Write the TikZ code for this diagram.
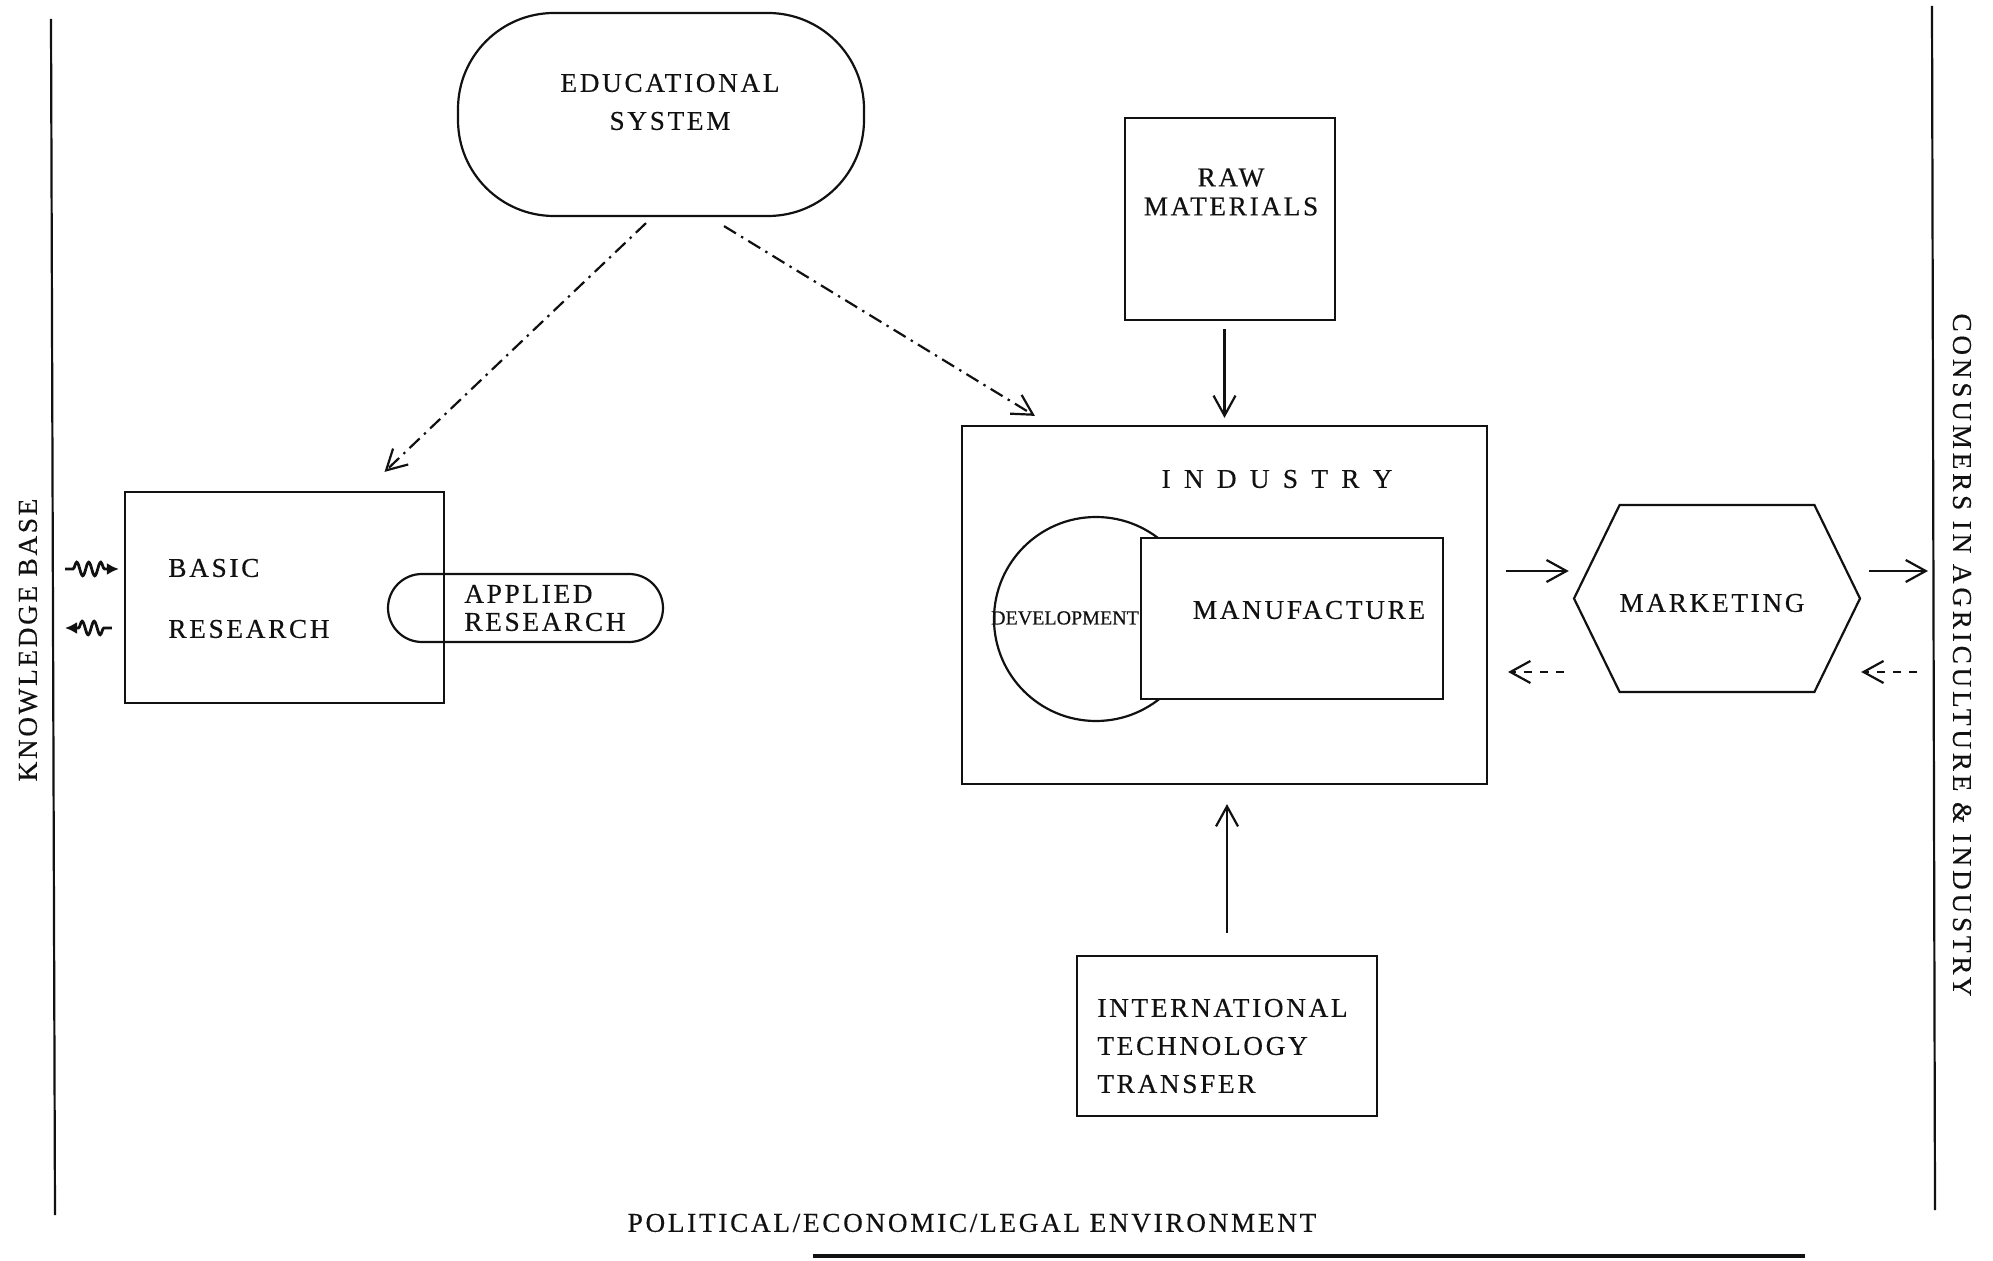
\documentclass[tikz,border=0pt]{standalone}
\usepackage{fontspec}
\setmainfont{Liberation Serif}[LetterSpace=10,FakeBold=0.4]
\newfontfamily\devfont{Liberation Serif}[FakeBold=0.4]
\newfontfamily\widefont{Liberation Serif}[LetterSpace=24,FakeBold=0.4]
\newfontfamily\consfont{Liberation Serif}[LetterSpace=14,FakeBold=0.4]
\usepackage{tikz}
\usetikzlibrary{calc,arrows.meta,shapes.symbols,decorations.pathmorphing}
\definecolor{ink}{HTML}{111111}
\tikzset{
  base/.style={draw=ink, line width=1.1pt},
  box/.style={base, rectangle, inner sep=0pt},
  pill/.style={base, rectangle, rounded corners=#1, inner sep=0pt},
  lab/.style={text=ink, font=\fontsize{13.6}{19}\selectfont, inner sep=0pt},
  arr/.style={draw=ink, line width=1.1pt, -{Straight Barb[length=10pt,width=11pt]}},
  dasharr/.style={arr, dash pattern=on 4pt off 4pt},
  dotarr/.style={arr, dash pattern=on 7pt off 3pt on 1.2pt off 3pt},
  wig/.style={draw=ink, line width=1.4pt, -{Latex[length=6pt,width=6pt]},
    decorate, decoration={snake, amplitude=3.4pt, segment length=6pt, pre length=4pt, post length=6pt}},
}

\begin{document}
\begin{tikzpicture}[x=0.5pt,y=-0.5pt]
  \useasboundingbox (0,0) rectangle (1993,1261);
  % frame lines
  \coordinate (ltop) at (51,19);   \coordinate (lbot) at (55,1215);
  \coordinate (rtop) at (1932,6);  \coordinate (rbot) at (1935,1210);
  \coordinate (btl) at (813,1256); \coordinate (btr) at (1805,1256);
  \draw[base] (ltop) -- (lbot);
  \draw[base] (rtop) -- (rbot);
  \draw[draw=ink, line width=1.6pt] (btl) -- (btr);
  \node[lab, rotate=90] (kb) at (28,640) {KNOWLEDGE BASE};
  \node[lab, rotate=-90] (cons) at (1962,655) {\consfont CONSUMERS IN AGRICULTURE \& INDUSTRY};
  \node[lab] (env) at (972,1223) {POLITICAL/ECONOMIC/LEGAL ENVIRONMENT};

  % shapes
  \node[pill=48pt, minimum width=203pt, minimum height=101.5pt] (edu) at (661,114.5) {};
  \node[lab, align=center] (edutxt) at (670,102) {EDUCATIONAL\\SYSTEM};
  \node[box, minimum width=105pt, minimum height=101pt] (raw) at (1230,219) {};
  \node[lab, align=center] (rawtxt) at (1231,192) {RAW\\[-4.5pt]MATERIALS};
  \node[box, minimum width=262.5pt, minimum height=179pt] (industry) at (1224.5,605) {};
  \node[lab] (indtxt) at (1277,479) {\widefont I N D U S T R Y};
  \node[base, circle, minimum size=102pt, inner sep=0pt] (dev) at (1096,619) {};
  \node[box, fill=white, minimum width=151pt, minimum height=80.5pt] (manu) at (1292,618.5) {};
  \node[lab] (devtxt) at (1065,618) {\devfont\fontsize{10}{12}\selectfont DEVELOPMENT};
  \node[lab] (manutxt) at (1309,610) {MANUFACTURE};
  \node[base, signal, signal to=west and east, signal pointer angle=128,
        minimum width=143pt, minimum height=93.5pt, inner sep=0pt] (mkt) at (1717,598.5) {};
  \node[lab] (mkttxt) at (1712,603) {MARKETING};
  \node[box, minimum width=159.5pt, minimum height=105.5pt] (basic) at (284.5,597.5) {};
  \node[lab, align=left, anchor=west] (basictxt) at (168,598.5) {BASIC\\[11.5pt]RESEARCH};
  \node[pill=17pt, minimum width=137.5pt, minimum height=34pt] (applied) at (525.5,608) {};
  \node[lab, align=left, anchor=west] (appliedtxt) at (464,608) {APPLIED\\[-5pt]RESEARCH};
  \node[box, minimum width=150pt, minimum height=80pt] (itt) at (1227,1036) {};
  \node[lab, align=left, anchor=west] (itttxt) at (1097,1046) {INTERNATIONAL\\TECHNOLOGY\\TRANSFER};

  % connectors
  \draw[arr, shorten <=4pt, shorten >=3.5pt] (raw.south -| industry.north) -- (industry.north);
  \draw[arr, shorten <=11pt, shorten >=9.5pt] (itt.north) -- (itt.north |- industry.south);
  \draw[dotarr] ($(edu.south)+(-15,6)$) -- ($(basic.north)+(100,-19)$);
  \draw[dotarr] ($(edu.south)+(63,9)$) -- ($(industry.north west)+(74,-9)$);
  \coordinate (cin) at (1928,571);
  \coordinate (cout) at (1917,672);
  \draw[arr] ($(industry.east)+(18,-34)$) -- ($(mkt.west)+(-4,-27.5)$);
  \draw[arr] ($(mkt.east)+(8,-27.5)$) -- (cin);
  \draw[dasharr] ($(mkt.west)+(-9,73.5)$) -- ($(industry.east)+(20,67)$);
  \draw[dasharr] (cout) -- ($(mkt.east)+(0,73.5)$);
  \coordinate (kin) at (65,569);
  \coordinate (kout) at (65,628);
  \draw[wig] (kin) -- ($(basic.west)+(-5,-28.5)$);
  \draw[wig] ($(basic.west)+(-12,30.5)$) -- (kout);
\end{tikzpicture}
\end{document}
